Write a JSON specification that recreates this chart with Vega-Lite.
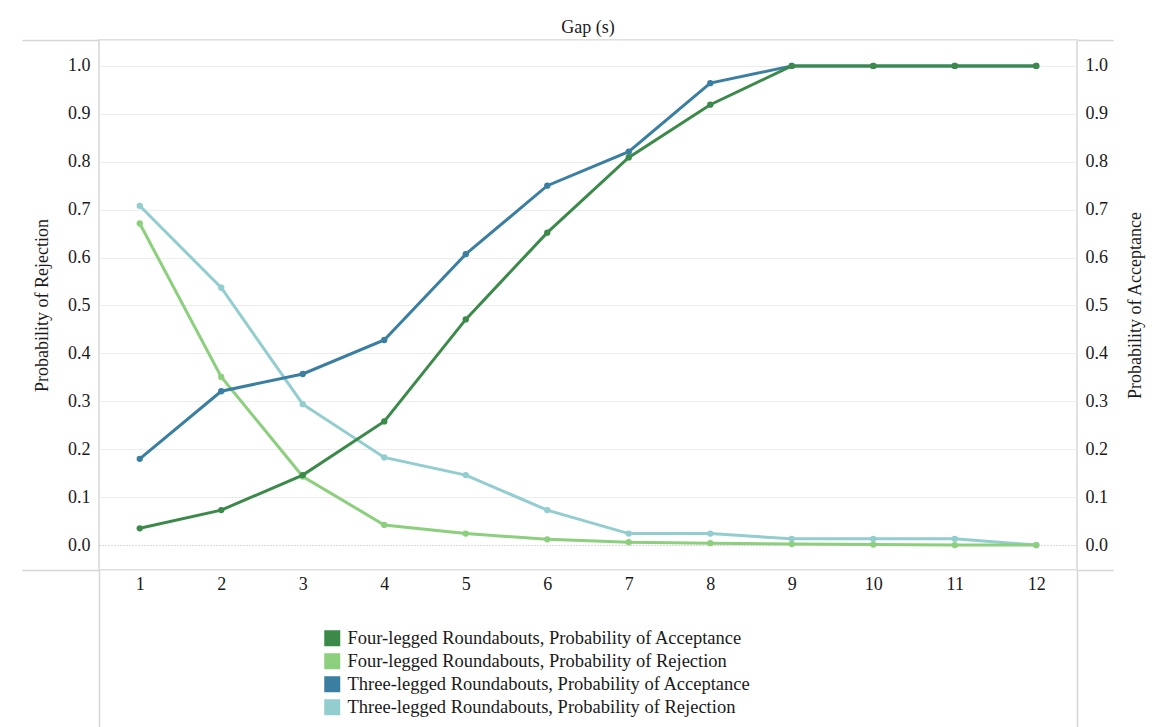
{
  "$schema": "https://vega.github.io/schema/vega-lite/v6.json",
  "width": 978,
  "height": 530,
  "autosize": {"type": "none"},
  "padding": {"left": 99, "top": 40, "right": 83, "bottom": 157},
  "background": "white",
  "title": {"text": "Gap (s)", "fontSize": 18, "font": "Liberation Serif", "fontWeight": "normal", "color": "#1a1a1a", "anchor": "middle", "frame": "group", "offset": 2},
  "config": {
    "font": "Liberation Serif",
    "view": {"stroke": "#d6d6d6", "strokeWidth": 1.5},
    "axis": {"labelFont": "Liberation Serif", "titleFont": "Liberation Serif", "labelFontSize": 18, "titleFontSize": 18, "labelColor": "#1a1a1a", "titleColor": "#1a1a1a", "titleFontWeight": "normal"},
    "legend": {"labelFont": "Liberation Serif", "labelFontSize": 18.5, "labelColor": "#1a1a1a", "labelLimit": 600}
  },
  "data": {"values": [
    {"gap": 1, "series": "Four-legged Roundabouts, Probability of Acceptance", "value": 0.035},
    {"gap": 2, "series": "Four-legged Roundabouts, Probability of Acceptance", "value": 0.073},
    {"gap": 3, "series": "Four-legged Roundabouts, Probability of Acceptance", "value": 0.146},
    {"gap": 4, "series": "Four-legged Roundabouts, Probability of Acceptance", "value": 0.258},
    {"gap": 5, "series": "Four-legged Roundabouts, Probability of Acceptance", "value": 0.471},
    {"gap": 6, "series": "Four-legged Roundabouts, Probability of Acceptance", "value": 0.652},
    {"gap": 7, "series": "Four-legged Roundabouts, Probability of Acceptance", "value": 0.809},
    {"gap": 8, "series": "Four-legged Roundabouts, Probability of Acceptance", "value": 0.919},
    {"gap": 9, "series": "Four-legged Roundabouts, Probability of Acceptance", "value": 1.0},
    {"gap": 10, "series": "Four-legged Roundabouts, Probability of Acceptance", "value": 1.0},
    {"gap": 11, "series": "Four-legged Roundabouts, Probability of Acceptance", "value": 1.0},
    {"gap": 12, "series": "Four-legged Roundabouts, Probability of Acceptance", "value": 1.0},
    {"gap": 1, "series": "Four-legged Roundabouts, Probability of Rejection", "value": 0.671},
    {"gap": 2, "series": "Four-legged Roundabouts, Probability of Rejection", "value": 0.351},
    {"gap": 3, "series": "Four-legged Roundabouts, Probability of Rejection", "value": 0.143},
    {"gap": 4, "series": "Four-legged Roundabouts, Probability of Rejection", "value": 0.042},
    {"gap": 5, "series": "Four-legged Roundabouts, Probability of Rejection", "value": 0.024},
    {"gap": 6, "series": "Four-legged Roundabouts, Probability of Rejection", "value": 0.012},
    {"gap": 7, "series": "Four-legged Roundabouts, Probability of Rejection", "value": 0.006},
    {"gap": 8, "series": "Four-legged Roundabouts, Probability of Rejection", "value": 0.004},
    {"gap": 9, "series": "Four-legged Roundabouts, Probability of Rejection", "value": 0.002},
    {"gap": 10, "series": "Four-legged Roundabouts, Probability of Rejection", "value": 0.001},
    {"gap": 11, "series": "Four-legged Roundabouts, Probability of Rejection", "value": 0.0},
    {"gap": 12, "series": "Four-legged Roundabouts, Probability of Rejection", "value": 0.0},
    {"gap": 1, "series": "Three-legged Roundabouts, Probability of Acceptance", "value": 0.18},
    {"gap": 2, "series": "Three-legged Roundabouts, Probability of Acceptance", "value": 0.321},
    {"gap": 3, "series": "Three-legged Roundabouts, Probability of Acceptance", "value": 0.357},
    {"gap": 4, "series": "Three-legged Roundabouts, Probability of Acceptance", "value": 0.428},
    {"gap": 5, "series": "Three-legged Roundabouts, Probability of Acceptance", "value": 0.607},
    {"gap": 6, "series": "Three-legged Roundabouts, Probability of Acceptance", "value": 0.75},
    {"gap": 7, "series": "Three-legged Roundabouts, Probability of Acceptance", "value": 0.821},
    {"gap": 8, "series": "Three-legged Roundabouts, Probability of Acceptance", "value": 0.964},
    {"gap": 9, "series": "Three-legged Roundabouts, Probability of Acceptance", "value": 1.0},
    {"gap": 10, "series": "Three-legged Roundabouts, Probability of Acceptance", "value": 1.0},
    {"gap": 11, "series": "Three-legged Roundabouts, Probability of Acceptance", "value": 1.0},
    {"gap": 12, "series": "Three-legged Roundabouts, Probability of Acceptance", "value": 1.0},
    {"gap": 1, "series": "Three-legged Roundabouts, Probability of Rejection", "value": 0.708},
    {"gap": 2, "series": "Three-legged Roundabouts, Probability of Rejection", "value": 0.537},
    {"gap": 3, "series": "Three-legged Roundabouts, Probability of Rejection", "value": 0.294},
    {"gap": 4, "series": "Three-legged Roundabouts, Probability of Rejection", "value": 0.183},
    {"gap": 5, "series": "Three-legged Roundabouts, Probability of Rejection", "value": 0.146},
    {"gap": 6, "series": "Three-legged Roundabouts, Probability of Rejection", "value": 0.073},
    {"gap": 7, "series": "Three-legged Roundabouts, Probability of Rejection", "value": 0.024},
    {"gap": 8, "series": "Three-legged Roundabouts, Probability of Rejection", "value": 0.024},
    {"gap": 9, "series": "Three-legged Roundabouts, Probability of Rejection", "value": 0.013},
    {"gap": 10, "series": "Three-legged Roundabouts, Probability of Rejection", "value": 0.013},
    {"gap": 11, "series": "Three-legged Roundabouts, Probability of Rejection", "value": 0.013},
    {"gap": 12, "series": "Three-legged Roundabouts, Probability of Rejection", "value": 0.0}
  ]},
  "encoding": {
    "x": {"field": "gap", "type": "ordinal", "scale": {"type": "band", "paddingInner": 0, "paddingOuter": 0},
      "axis": {"title": null, "labelAngle": 0, "tickBand": "extent", "tickSize": 157, "tickWidth": 1.5,
        "tickColor": {"condition": {"test": "datum.extra || datum.value === 12", "value": "#d6d6d6"}, "value": "transparent"},
        "domain": false, "labelPadding": -152, "grid": false}},
    "color": {"field": "series", "type": "nominal",
      "scale": {"domain": ["Four-legged Roundabouts, Probability of Acceptance", "Four-legged Roundabouts, Probability of Rejection", "Three-legged Roundabouts, Probability of Acceptance", "Three-legged Roundabouts, Probability of Rejection"],
                "range": ["#3b8a4a", "#8ccf7c", "#3a7fa1", "#92cdcf"]},
      "legend": {"title": null, "orient": "none", "legendX": 224, "legendY": 589, "direction": "vertical", "symbolType": "square", "symbolSize": 256, "rowPadding": 4, "labelOffset": 6,
        "encode": {"symbols": {"update": {"fill": {"scale": "color", "field": "value"}, "strokeWidth": {"value": 0}, "shape": {"value": "square"}}}}}}
  },
  "layer": [
    {
      "encoding": {"y": {"field": "value", "type": "quantitative", "scale": {"domain": [-0.052, 1.054], "nice": false, "zero": false},
        "axis": {"orient": "left", "title": "Probability of Rejection", "values": [-0.052, 0, 0.1, 0.2, 0.3, 0.4, 0.5, 0.6, 0.7, 0.8, 0.9, 1.0, 1.054],
          "labelExpr": "datum.value < -0.01 || datum.value > 1.01 ? '' : format(datum.value, '.1f')",
          "tickSize": 77, "tickWidth": 1.5, "tickColor": {"condition": {"test": "datum.value < -0.01 || datum.value > 1.01", "value": "#d6d6d6"}, "value": "transparent"},
          "labelPadding": -68, "domain": false, "titleX": -48, "titleY": 265, "titleAngle": 270,
          "grid": true, "gridColor": {"condition": {"test": "datum.value === 0", "value": "#b5b5b5"}, "value": "#ededed"}, "gridDash": {"condition": {"test": "datum.value === 0", "value": [1, 2]}, "value": []}}}},
      "layer": [
        {"transform": [{"filter": "datum.series === 'Three-legged Roundabouts, Probability of Rejection'"}], "mark": {"type": "line", "strokeWidth": 3, "point": {"filled": true, "size": 40}}},
        {"transform": [{"filter": "datum.series === 'Four-legged Roundabouts, Probability of Rejection'"}], "mark": {"type": "line", "strokeWidth": 3, "point": {"filled": true, "size": 40}}}
      ]
    },
    {
      "encoding": {"y": {"field": "value", "type": "quantitative", "scale": {"domain": [-0.052, 1.054], "nice": false, "zero": false},
        "axis": {"orient": "right", "title": "Probability of Acceptance", "values": [-0.052, 0, 0.1, 0.2, 0.3, 0.4, 0.5, 0.6, 0.7, 0.8, 0.9, 1.0, 1.054],
          "labelExpr": "datum.value < -0.01 || datum.value > 1.01 ? '' : format(datum.value, '.1f')",
          "tickSize": 36, "tickWidth": 1.5, "tickColor": {"condition": {"test": "datum.value < -0.01 || datum.value > 1.01", "value": "#d6d6d6"}, "value": "transparent"},
          "labelPadding": -28, "domain": false, "titleX": 67, "titleY": 265, "titleAngle": 270, "grid": false}}},
      "layer": [
        {"transform": [{"filter": "datum.series === 'Three-legged Roundabouts, Probability of Acceptance'"}], "mark": {"type": "line", "strokeWidth": 3, "point": {"filled": true, "size": 40}}},
        {"transform": [{"filter": "datum.series === 'Four-legged Roundabouts, Probability of Acceptance'"}], "mark": {"type": "line", "strokeWidth": 3, "point": {"filled": true, "size": 40}}}
      ]
    }
  ],
  "resolve": {"scale": {"y": "independent"}}
}
